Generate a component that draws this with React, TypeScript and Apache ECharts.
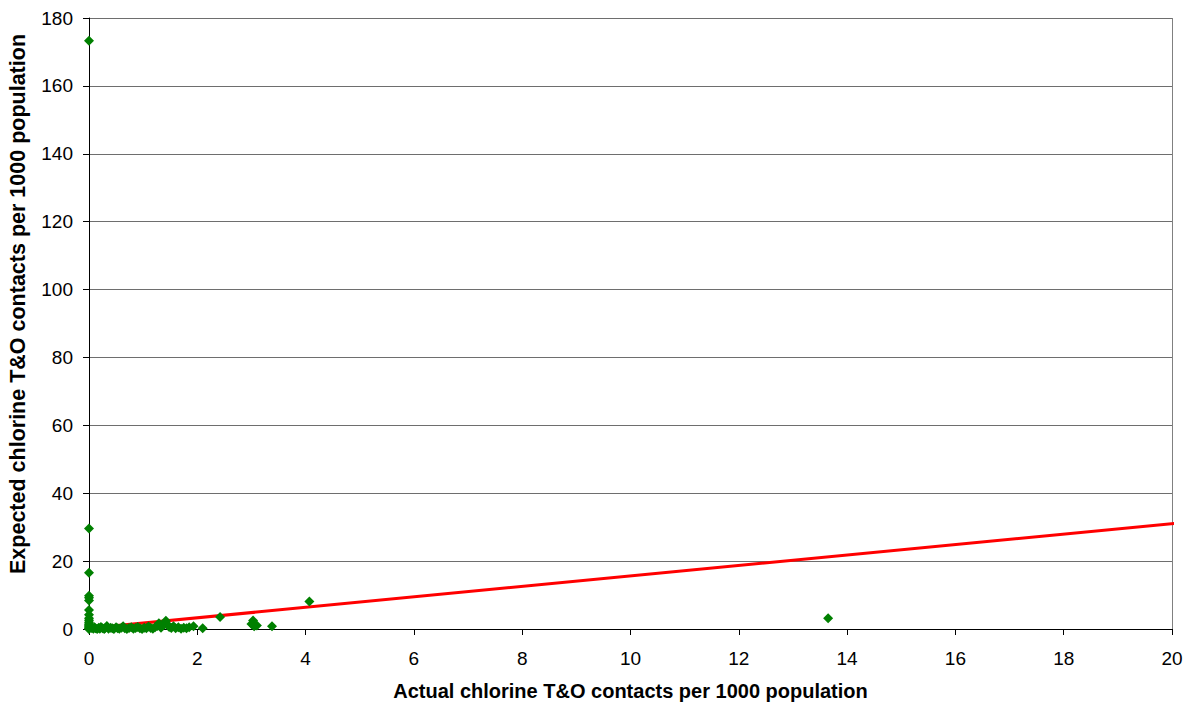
import React, { useEffect, useRef } from "react";
import * as echarts from "echarts";

const xTitle = "Actual chlorine T&O contacts per 1000 population";
const yTitle = "Expected chlorine T&O contacts per 1000 population";

// Observed points (actual, expected)
const pointsX = [
  0, 0, 0, 0, 0, 0, 0, 0, 0, 0, 0, 0, 0, 0, 0, 0, 0, 0,
  0.05, 0.08, 0.1, 0.12, 0.15, 0.18, 0.2, 0.22, 0.25, 0.28, 0.3, 0.33, 0.36, 0.4, 0.43, 0.46,
  0.5, 0.53, 0.56, 0.6, 0.63, 0.66, 0.7, 0.74, 0.78, 0.82, 0.86, 0.9, 0.94, 0.98,
  1.02, 1.06, 1.1, 1.14, 1.18, 1.22, 1.26, 1.29, 1.33, 1.37, 1.42, 1.45, 1.48, 1.52, 1.56,
  1.6, 1.65, 1.7, 1.75, 1.8, 1.85, 1.93, 2.1, 2.42, 3.0, 3.03, 3.05, 3.1, 3.38, 4.07, 13.65,
];
const pointsY = [
  173.3, 29.6, 16.6, 9.8, 9.2, 8.4, 5.6, 4.2, 3.2, 2.6, 2.0, 1.5, 1.2, 0.9, 0.6, 0.3, 0.1, 0.0,
  0.3, 0.1, 0.5, 0.2, 0.0, 0.4, 0.1, 0.6, 0.2, 0.0, 0.3, 0.9, 0.1, 0.4, 0.2, 0.0,
  0.5, 0.2, 0.1, 0.4, 0.8, 0.2, 0.0, 0.3, 0.5, 0.1, 0.3, 0.6, 0.2, 0.0,
  0.4, 0.2, 0.7, 0.3, 0.1, 0.5, 0.9, 1.7, 0.4, 1.1, 2.4, 1.3, 0.6, 0.3, 0.8,
  0.2, 0.5, 0.1, 0.4, 0.2, 0.5, 0.8, 0.2, 3.5, 1.5, 2.5, 0.8, 1.0, 0.8, 8.1, 3.2,
];

// Linear trendline endpoints
const trendX = [0, 20.1];
const trendY = [0.22, 31.2];

export default function App() {
  const ref = useRef<HTMLDivElement>(null);
  useEffect(() => {
    if (!ref.current) return;
    const chart = echarts.init(ref.current, undefined, { renderer: "svg" });
    const font = "Liberation Sans, Arial, sans-serif";
    chart.setOption({
      animation: false,
      backgroundColor: "#ffffff",
      grid: { left: 89, right: 22, top: 18, bottom: 76, containLabel: false },
      xAxis: {
        type: "value",
        min: 0,
        max: 20,
        interval: 2,
        name: xTitle,
        nameLocation: "middle",
        nameGap: 52,
        nameTextStyle: { fontFamily: font, fontSize: 20, fontWeight: "bold", color: "#000" },
        axisLine: { onZero: false, lineStyle: { color: "#000", width: 1 } },
        axisTick: { show: true, length: 6, lineStyle: { color: "#000" } },
        axisLabel: { fontFamily: font, fontSize: 19, color: "#000", margin: 20 },
        splitLine: { show: false },
      },
      yAxis: {
        type: "value",
        min: 0,
        max: 180,
        interval: 20,
        axisLine: { show: true, onZero: false, lineStyle: { color: "#000", width: 1 } },
        axisTick: { show: true, length: 6, lineStyle: { color: "#000" } },
        axisLabel: { fontFamily: font, fontSize: 19, color: "#000", margin: 16 },
        splitLine: { show: true, lineStyle: { color: "#6e6e6e", width: 1 } },
      },
      series: [
        {
          type: "line",
          data: trendX.map((x, i) => [x, trendY[i]]),
          showSymbol: false,
          symbol: "none",
          clip: false,
          lineStyle: { color: "#ff0000", width: 3 },
          z: 2,
        },
        {
          type: "scatter",
          data: pointsX.map((x, i) => [x, pointsY[i]]),
          symbol: "diamond",
          symbolSize: 10,
          itemStyle: { color: "#008000", opacity: 1 },
          z: 3,
        },
      ],
      graphic: [
        {
          type: "line",
          shape: { x1: 1172.5, y1: 18, x2: 1172.5, y2: 630 },
          style: { stroke: "#808080", lineWidth: 1 },
        },
        {
          type: "text",
          x: 18,
          y: 304,
          rotation: Math.PI / 2,
          style: {
            text: yTitle,
            fontFamily: font,
            fontSize: 21.5,
            fontWeight: "bold",
            fill: "#000",
            align: "center",
            verticalAlign: "middle",
          },
        },
      ],
    });
    return () => chart.dispose();
  }, []);
  return (
    <div
      ref={ref}
      style={{ position: "fixed", left: 0, top: 0, width: 1194, height: 706 }}
    />
  );
}
